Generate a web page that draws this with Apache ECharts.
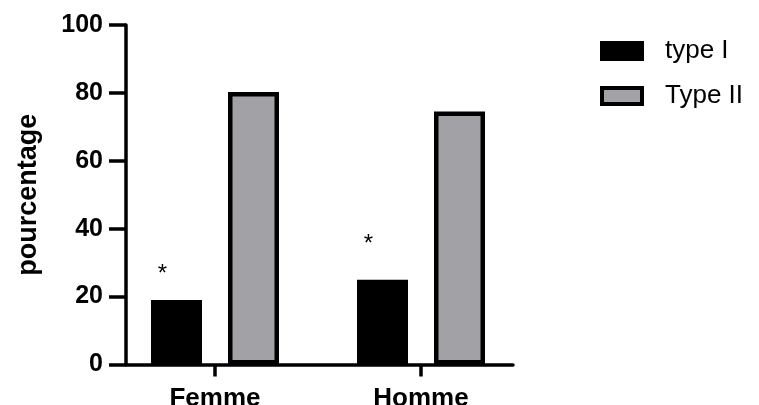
<!DOCTYPE html>
<html>
<head>
<meta charset="utf-8">
<script src="https://cdn.jsdelivr.net/npm/echarts@6/dist/echarts.min.js"></script>
<style>html,body{margin:0;padding:0;background:#fff}#c{width:759px;height:405px}</style>
</head>
<body>
<div id="c"></div>
<script>
const categories = ['Femme', 'Homme'];
const categoryPos = [1, 2];
const typeI = [19, 25];
const typeII = [80.3, 74.5];
const significance = ['*', '*'];
const yTicks = [0, 20, 40, 60, 80, 100];

const FONT = 'Liberation Sans, Arial, sans-serif';
const chart = echarts.init(document.getElementById('c'));
const asteriskOffsets = [[-14, -9], [-14, -18]];

chart.setOption({
  animation: false,
  backgroundColor: '#fff',
  grid: { left: 126, right: 246, top: 25, bottom: 40.5, containLabel: false, outerBoundsMode: 'none' },
  legend: {
    orient: 'vertical', left: 600, top: 38, padding: 0, itemWidth: 40, itemHeight: 16, itemGap: 19,
    textStyle: { fontFamily: FONT, fontSize: 26, color: '#000', padding: [0, 0, 0, 18] },
    data: [
      { name: 'type I', icon: 'rect', itemStyle: { color: '#000', borderColor: '#000', borderWidth: 4 } },
      { name: 'Type II', icon: 'rect', itemStyle: { color: '#A2A1A6', borderColor: '#000', borderWidth: 4 } }
    ]
  },
  xAxis: {
    type: 'value', min: 1 - 89 / 206, max: 2 + 92 / 206,
    splitLine: { show: false },
    axisLine: { show: true, onZero: false, lineStyle: { color: '#000', width: 3.5 } },
    axisTick: { show: true, length: 12, customValues: categoryPos, lineStyle: { color: '#000', width: 3.5 } },
    axisLabel: {
      customValues: categoryPos, margin: 21,
      formatter: v => categories[categoryPos.indexOf(Math.round(v))] || '',
      fontFamily: FONT, fontWeight: 'bold', fontSize: 26, color: '#000'
    }
  },
  yAxis: {
    type: 'value', min: 0, max: 100, interval: 20,
    name: 'pourcentage', nameLocation: 'middle', nameGap: 84,
    nameTextStyle: { fontFamily: FONT, fontWeight: 'bold', fontSize: 27, color: '#000' },
    splitLine: { show: false },
    axisLine: { show: true, lineStyle: { color: '#000', width: 3.5 } },
    axisTick: { show: true, length: 17, lineStyle: { color: '#000', width: 3.5 } },
    axisLabel: { margin: 23, fontFamily: FONT, fontWeight: 'bold', fontSize: 25, color: '#000',
      formatter: v => yTicks.includes(v) ? String(v) : '' }
  },
  series: [
    {
      name: 'type I', type: 'bar', barWidth: 51, barGap: '51%',
      itemStyle: { color: '#000', borderColor: '#000', borderWidth: 4.5 },
      data: typeI.map((v, i) => ({
        value: [categoryPos[i], v],
        label: { show: true, position: 'top', formatter: significance[i], offset: asteriskOffsets[i],
          fontFamily: FONT, fontSize: 24, color: '#000' }
      }))
    },
    {
      name: 'Type II', type: 'bar', barWidth: 51, barGap: '51%',
      itemStyle: { color: '#A2A1A6', borderColor: '#000', borderWidth: 4.5 },
      data: typeII.map((v, i) => [categoryPos[i], v])
    }
  ]
});
</script>
</body>
</html>
